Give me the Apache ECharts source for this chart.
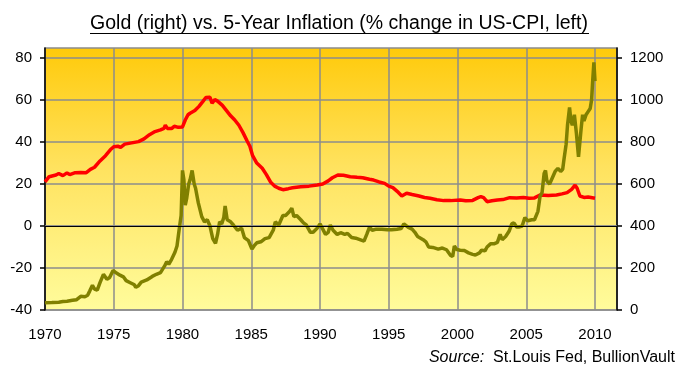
<!DOCTYPE html>
<html>
<head>
<meta charset="utf-8">
<script src="https://cdn.jsdelivr.net/npm/echarts@6/dist/echarts.min.js"></script>
<style>
html,body{margin:0;padding:0;background:#fff;}
#chart{width:684px;height:378px;}
</style>
</head>
<body>
<div id="chart"></div>
<script>
// ---- Data ----
var titleText = 'Gold (right) vs. 5-Year Inflation (% change in US-CPI, left)';
var sourceLabel = 'Source:';
var sourceText = 'St.Louis Fed, BullionVault';

var xTicks = [1970, 1975, 1980, 1985, 1990, 1995, 2000, 2005, 2010];
var leftTicks = [-40, -20, 0, 20, 40, 60, 80];
var rightTicks = [0, 200, 400, 600, 800, 1000, 1200];

// 5-year % change in US-CPI (left axis)
var cpiYears = [1970.0,1970.3,1970.8,1971.0,1971.3,1971.6,1971.8,1972.2,1972.6,1973.0,1973.3,1973.6,1974.0,1974.4,1974.75,1975.0,1975.3,1975.5,1975.8,1976.3,1976.8,1977.2,1977.6,1978.0,1978.4,1978.65,1978.75,1978.9,1979.2,1979.4,1979.7,1980.0,1980.2,1980.4,1980.55,1980.9,1981.2,1981.5,1981.7,1982.0,1982.15,1982.35,1982.55,1982.9,1983.2,1983.5,1983.8,1984.1,1984.4,1984.7,1984.9,1985.1,1985.4,1985.8,1986.1,1986.4,1986.7,1987.0,1987.3,1987.7,1988.0,1988.6,1989.2,1989.8,1990.2,1990.6,1990.9,1991.3,1991.7,1992.2,1992.7,1993.1,1993.6,1993.9,1994.3,1994.7,1995.0,1995.3,1995.7,1995.95,1996.3,1996.7,1997.2,1997.6,1998.0,1998.5,1999.0,1999.5,2000.2,2000.6,2001.1,2001.5,2001.7,2001.9,2002.15,2002.5,2002.9,2003.3,2003.8,2004.3,2004.8,2005.2,2005.6,2006.0,2006.6,2007.2,2007.6,2007.97,2008.3,2008.55,2008.7,2008.9,2009.2,2009.5,2010.0];
var cpiValues = [21,23.5,24.3,25,24,25.3,24.5,25.4,25.5,25.4,27,28,31,33.5,36.3,37.8,38,37.5,39,39.6,40.2,41.5,43.5,45,45.8,46.5,48,46.5,46.4,47.5,47,47.2,50.5,53,53.7,55,57,59.5,61.2,61.3,58.5,60.2,59.5,57.5,55,52.5,50.5,48,44.5,40.5,38,33.5,30,27.5,24.5,21,19,18,17.3,17.8,18.2,18.7,19,19.5,20,21.5,23,24.3,24.2,23.5,23.2,23,22.3,21.9,21,20.3,19,18.3,16,14.3,15.6,15,14.3,13.6,13.2,12.5,12.1,12.1,12.4,12,12.2,13.5,14,13.5,11.6,12,12.4,12.6,13.5,13.3,13.6,13.2,13.4,14.8,14.5,14.8,15.3,15.9,17.5,19.5,18,14.3,13.6,13.8,13.2];

// Gold price, US$ per oz (right axis)
var goldYears = [1970.0,1970.5,1971.0,1971.3,1971.6,1972.0,1972.3,1972.6,1972.9,1973.1,1973.25,1973.45,1973.6,1973.8,1974.0,1974.25,1974.5,1974.7,1974.95,1975.2,1975.45,1975.7,1975.9,1976.2,1976.5,1976.6,1976.8,1977.0,1977.4,1977.8,1978.1,1978.4,1978.7,1978.85,1979.0,1979.2,1979.45,1979.6,1979.75,1979.9,1980.0,1980.1,1980.2,1980.3,1980.45,1980.55,1980.7,1980.85,1980.95,1981.15,1981.4,1981.6,1981.8,1982.0,1982.2,1982.4,1982.55,1982.7,1982.85,1983.0,1983.1,1983.25,1983.5,1983.7,1984.0,1984.3,1984.5,1984.8,1985.05,1985.2,1985.4,1985.7,1986.0,1986.3,1986.6,1986.75,1987.0,1987.3,1987.5,1987.8,1987.95,1988.1,1988.3,1988.6,1988.8,1989.0,1989.3,1989.5,1989.8,1990.0,1990.1,1990.4,1990.6,1990.75,1990.95,1991.25,1991.5,1991.8,1992.0,1992.3,1992.6,1992.9,1993.2,1993.4,1993.6,1993.8,1994.1,1994.5,1994.9,1995.2,1995.6,1995.9,1996.1,1996.4,1996.7,1996.9,1997.1,1997.5,1997.7,1997.9,1998.2,1998.6,1998.9,1999.2,1999.5,1999.65,1999.77,1999.95,2000.2,2000.5,2000.8,2001.1,2001.3,2001.6,2001.75,2002.0,2002.15,2002.4,2002.65,2002.9,2003.1,2003.25,2003.5,2003.75,2003.95,2004.1,2004.3,2004.45,2004.7,2004.9,2005.1,2005.4,2005.6,2005.85,2006.0,2006.15,2006.3,2006.4,2006.5,2006.7,2006.9,2007.1,2007.3,2007.5,2007.65,2007.75,2007.9,2008.0,2008.15,2008.25,2008.35,2008.5,2008.65,2008.8,2008.9,2009.0,2009.1,2009.2,2009.35,2009.5,2009.65,2009.75,2009.85,2009.92,2010.0];
var goldValues = [35,35.5,37,40,42,46,49,65,63,70,90,118,100,95,130,170,146,155,188,176,166,158,140,130,120,108,116,133,143,160,170,178,210,230,218,240,275,305,380,450,665,620,500,530,600,620,665,600,580,510,445,420,430,400,340,318,360,420,410,440,495,430,420,405,380,390,345,330,290,305,320,325,340,345,380,420,405,450,450,470,485,445,450,430,415,405,370,370,390,410,405,360,370,405,380,360,368,360,365,345,342,335,328,360,395,380,385,385,382,382,385,388,410,395,385,370,350,335,325,300,298,290,295,287,260,255,305,288,285,283,272,265,262,272,285,282,300,315,315,322,360,335,350,375,410,415,395,395,400,440,425,430,430,470,540,560,650,665,615,600,630,660,675,660,670,720,790,880,965,900,880,930,840,730,800,870,930,900,930,945,960,1000,1110,1180,1090];

// ---- Build chart ----
function pairs(xs, ys) { var out = []; for (var i = 0; i < xs.length; i++) out.push([xs[i], ys[i]]); return out; }
function inList(list) { return function (v) { for (var i = 0; i < list.length; i++) if (Math.abs(list[i] - v) < 1e-6) return String(list[i]); return ''; }; }

var FONT = '"Liberation Sans", Arial, sans-serif';
var chart = echarts.init(document.getElementById('chart'), null, { renderer: 'canvas' });
chart.setOption({
  animation: false,
  backgroundColor: '#ffffff',
  grid: {
    left: 45, right: 67, top: 48, bottom: 68,
    show: true,
    borderColor: '#8c8c8c', borderWidth: 1.5,
    backgroundColor: new echarts.graphic.LinearGradient(0, 0, 0, 1, [
      { offset: 0, color: '#FFCA0A' },
      { offset: 0.45, color: '#FFE25E' },
      { offset: 1, color: '#FFFC9C' }
    ])
  },
  xAxis: {
    type: 'value', min: 1970, max: 2011.6, interval: 5,
    axisLine: { show: true, lineStyle: { color: '#8c8c8c', width: 1.5 } },
    axisTick: { show: false },
    axisLabel: { margin: 17, color: '#000', fontSize: 15, fontFamily: FONT, formatter: inList(xTicks), showMaxLabel: true },
    splitLine: { show: true, lineStyle: { color: '#8c8c8c', width: 1.5 } }
  },
  yAxis: [{
    type: 'value', position: 'left', min: -40, max: 84.8, interval: 20,
    axisLine: { show: true, lineStyle: { color: '#000', width: 1.5 } },
    axisTick: { show: true, inside: false, length: 5, lineStyle: { color: '#000', width: 1.5 }, customValues: leftTicks },
    axisLabel: { margin: 13, color: '#000', fontSize: 15, fontFamily: FONT, formatter: inList(leftTicks) },
    splitLine: { show: true, lineStyle: { color: '#8c8c8c', width: 1.5 } }
  }, {
    type: 'value', position: 'right', min: 0, max: 1248, interval: 200,
    axisLine: { show: true, lineStyle: { color: '#000', width: 1.5 } },
    axisTick: { show: true, inside: false, length: 5, lineStyle: { color: '#000', width: 1.5 }, customValues: rightTicks },
    axisLabel: { margin: 13, color: '#000', fontSize: 15, fontFamily: FONT, formatter: inList(rightTicks) },
    splitLine: { show: false }
  }],
  series: [{
    name: 'Inflation', type: 'line', yAxisIndex: 0, z: 2,
    data: pairs(cpiYears, cpiValues), showSymbol: false, symbol: 'none',
    lineStyle: { color: '#FF0000', width: 3.5 },
    markLine: {
      silent: true, symbol: 'none', label: { show: false },
      lineStyle: { color: '#000', width: 1.2, type: 'solid' },
      data: [{ yAxis: 0 }]
    }
  }, {
    name: 'Gold', type: 'line', yAxisIndex: 1, z: 3,
    data: pairs(goldYears, goldValues), showSymbol: false, symbol: 'none',
    lineStyle: { color: '#808000', width: 3.5 }
  }],
  graphic: [{
    type: 'text', x: 339, y: 24,
    style: { text: titleText, fill: '#000', font: '19.5px ' + FONT, textAlign: 'center', textVerticalAlign: 'middle' }
  }, {
    type: 'line', shape: { x1: 90, y1: 33.5, x2: 589, y2: 33.5 },
    style: { stroke: '#000', lineWidth: 1 }
  }, {
    type: 'text', x: 675, y: 358,
    style: {
      text: '{i|' + sourceLabel + '}  ' + sourceText,
      rich: { i: { fontStyle: 'italic', fontSize: 16, fontFamily: FONT, fill: '#000' } },
      fill: '#000', font: '16px ' + FONT, textAlign: 'right', textVerticalAlign: 'middle'
    }
  }]
});
</script>
</body>
</html>
